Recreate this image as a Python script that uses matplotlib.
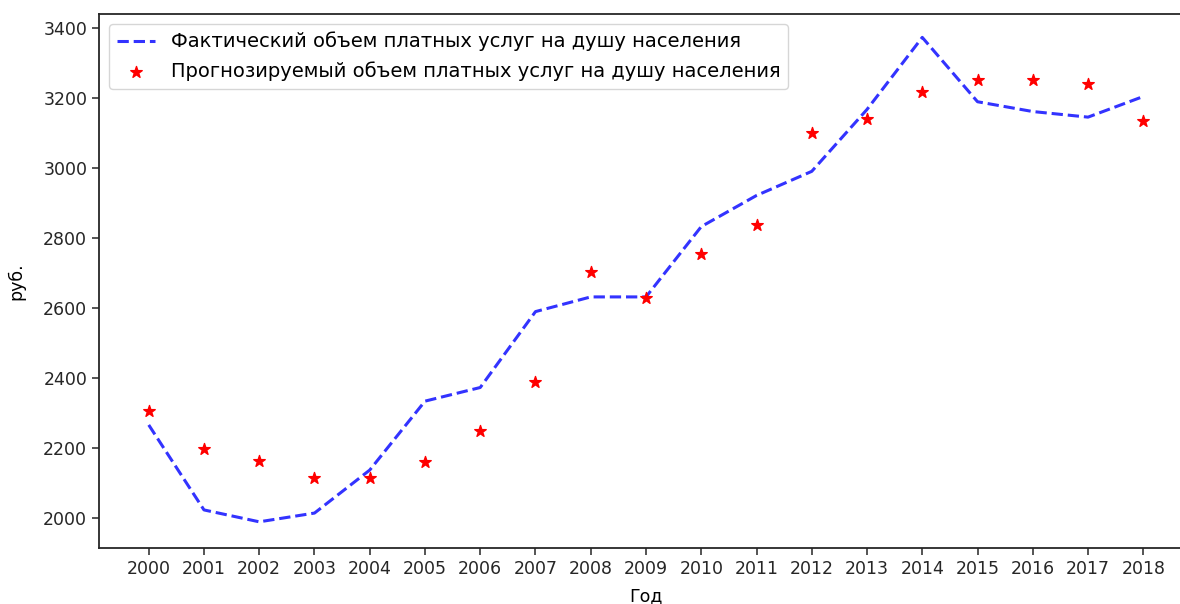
import numpy as np
import matplotlib
matplotlib.use("Agg")
import matplotlib.pyplot as plt

# годы и значения
years = [2000, 2001, 2002, 2003, 2004, 2005, 2006, 2007, 2008, 2009,
         2010, 2011, 2012, 2013, 2014, 2015, 2016, 2017, 2018]
fact = [2266, 2023, 1989, 2014, 2137, 2334, 2373, 2590, 2632, 2632,
        2833, 2922, 2991, 3168, 3374, 3190, 3162, 3146, 3205]
prog = [2305, 2198, 2164, 2114, 2114, 2159, 2250, 2389, 2704, 2630,
        2754, 2837, 3100, 3140, 3218, 3252, 3252, 3240, 3134]

plt.rcParams['font.family'] = ['DejaVu Sans']
plt.rcParams['font.size'] = 12.5

fig = plt.figure(figsize=(11.8, 6.04), dpi=100)
ax = fig.add_axes([99 / 1180, 1 - 547.7 / 604, (1193 - 99) / 1180, (547.7 - 14.3) / 604])

ax.plot(years, fact, 'b--', alpha=0.8, linewidth=2.2,
        label='Фактический объем платных услуг на душу населения')
ax.scatter(years, prog, marker='*', c='r', s=75, zorder=3,
           label='Прогнозируемый объем платных услуг на душу населения')

ax.set_xticks(years)
ax.set_yticks(np.arange(2000, 3401, 200))
ax.set_xlim(1999.1, 2018.9)
ax.set_ylim(1915, 3440)
ax.set_xlabel('Год', labelpad=7)
ax.set_ylabel('руб.', labelpad=13)
ax.tick_params(length=5, width=1.1, colors='#262626', labelcolor='#262626')
for s in ax.spines.values():
    s.set_linewidth(1.3)
    s.set_color('#262626')

ax.legend(loc='upper left', scatterpoints=1, borderaxespad=0.5, fontsize=14)

fig.savefig('out.png', dpi=100)
